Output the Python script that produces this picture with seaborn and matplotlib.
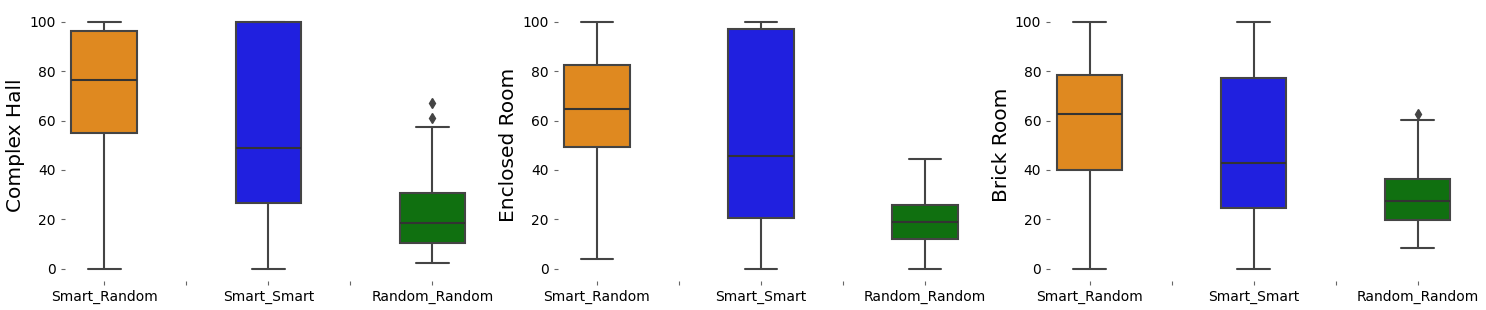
import pandas as pd
import matplotlib
matplotlib.use("Agg")
import matplotlib.pyplot as plt
from matplotlib.ticker import FixedLocator
import seaborn as sns

# --- datos (escenario -> valores por estrategia) ---
estrategias = ["Smart_Random", "Smart_Smart", "Random_Random"]
colores = ["darkorange", "blue", "green"]
escenarios = ["Complex Hall", "Enclosed Room", "Brick Room"]

complex_sr = [0, 20, 40, 55, 62, 70, 76.5, 84, 90, 96.5, 98, 99, 100]
complex_ss = [0, 8, 18, 26.5, 33, 41, 49, 65, 85, 100, 100, 100, 100]
complex_rr = [2.5, 5, 8, 10.5, 13, 16, 18.5, 22, 26, 30.5, 57.5, 61, 67]

enclosed_sr = [3.8, 20, 40, 49.5, 55, 60, 64.9, 70, 76, 82.5, 90, 95, 100]
enclosed_ss = [0, 8, 15, 20.6, 28, 37, 45.5, 60, 80, 97.2, 98, 99, 100]
enclosed_rr = [0, 4, 8, 11.9, 14, 16.5, 18.8, 21, 23.5, 25.9, 32, 38, 44.5]

brick_sr = [0, 15, 30, 40.1, 50, 56, 62.5, 68, 73, 78.4, 88, 95, 100]
brick_ss = [0, 8, 16, 24.7, 31, 37, 43, 55, 67, 77.3, 88, 95, 100]
brick_rr = [8.2, 12, 16, 19.8, 22, 25, 27.3, 30, 33, 36.4, 45, 60.1, 62.5]

datos = {
    "Complex Hall": [complex_sr, complex_ss, complex_rr],
    "Enclosed Room": [enclosed_sr, enclosed_ss, enclosed_rr],
    "Brick Room": [brick_sr, brick_ss, brick_rr],
}


def tabla(escenario):
    filas = []
    for estr, valores in zip(estrategias, datos[escenario]):
        for v in valores:
            filas.append({"estrategia": estr, "valor": v})
    return pd.DataFrame(filas)


sns.set_style("white")
plt.rcParams["text.color"] = "black"
plt.rcParams["axes.labelcolor"] = "black"
plt.rcParams["xtick.color"] = "black"
plt.rcParams["ytick.color"] = "black"

fig, axes = plt.subplots(1, 3, figsize=(14.86, 3.10), dpi=100)
fig.subplots_adjust(left=0.0437, right=0.9805, top=0.969, bottom=0.0935, wspace=0.211)

gris = "#444444"
for ax, esc in zip(axes, escenarios):
    df = tabla(esc)
    sns.boxplot(data=df, x="estrategia", y="valor", hue="estrategia",
                order=estrategias, hue_order=estrategias, palette=colores,
                width=0.4, legend=False, ax=ax, linecolor=gris, linewidth=1.5,
                medianprops=dict(color="#333333"),
                flierprops=dict(marker="d", markerfacecolor=gris,
                                markeredgecolor=gris, markersize=5))
    ax.set_xlim(-0.24, 2.24)
    ax.set_ylim(-5, 105)
    ax.set_yticks([0, 20, 40, 60, 80, 100])
    ax.xaxis.set_minor_locator(FixedLocator([0.5, 1.5]))
    ax.set_xlabel("")
    ax.set_ylabel(esc, fontsize=14.5, labelpad=3)
    ax.tick_params(axis="both", which="both", length=3, width=0.8,
                   color="#666666", labelcolor="black", labelsize=10,
                   bottom=True, left=True)
    for s in ax.spines.values():
        s.set_visible(False)

plt.savefig("out.png", dpi=100)
plt.close()
